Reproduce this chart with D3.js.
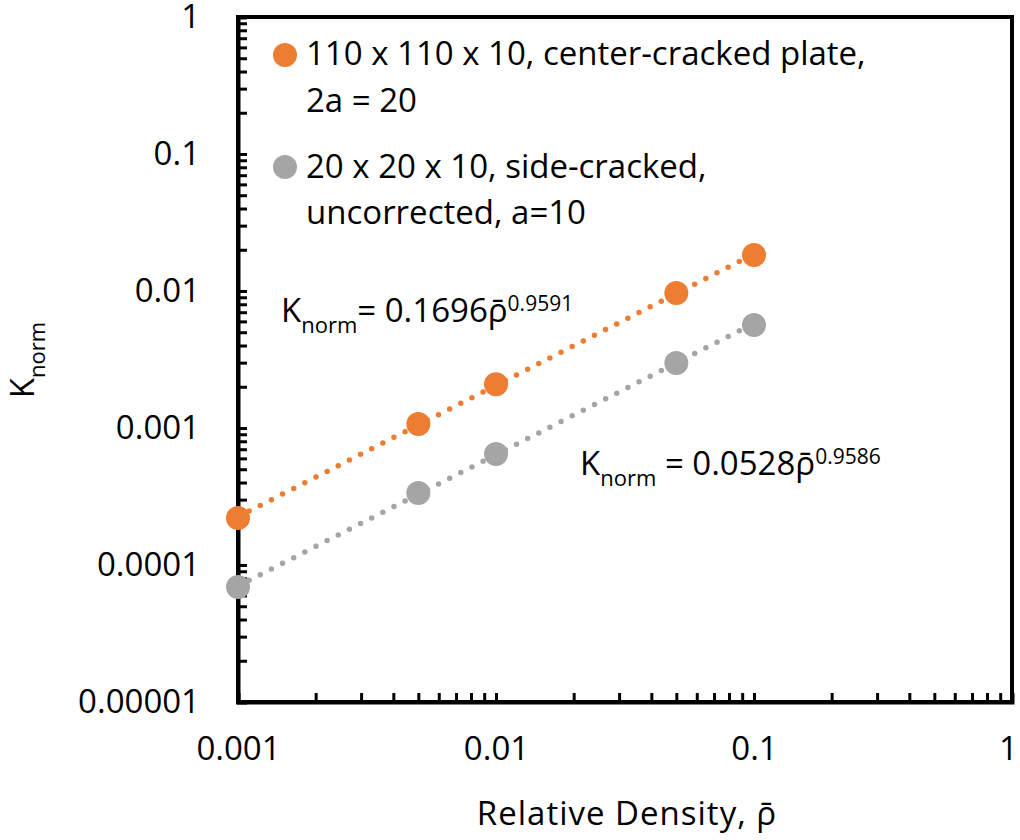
<!DOCTYPE html>
<html>
<head>
<meta charset="utf-8">
<script src="https://cdn.jsdelivr.net/npm/d3@7"></script>
<style>
  html, body { margin: 0; padding: 0; background: #fff; }
  svg text { font-family: "Open Sans", sans-serif; fill: #000; }
</style>
</head>
<body>
<svg id="chart" width="1020" height="840"></svg>
<script>
// Relative density samples (x) and normalised fracture toughness for each specimen set
const density = [0.001, 0.005, 0.01, 0.05, 0.1];
const kCenterCracked = [0.00022, 0.00107, 0.00209, 0.00966, 0.0183];
const kSideCracked = [0.000069, 0.000336, 0.000646, 0.00298, 0.00565];

// Power-law trendline coefficients (K = A * rho^n)
const fitCenter = [0.1696, 0.9591];
const fitSide = [0.0528, 0.9586];

const seriesNames = [
  ["110 x 110 x 10, center-cracked plate,", "2a = 20"],
  ["20 x 20 x 10, side-cracked,", "uncorrected, a=10"]
];
const seriesColors = ["#ED7D31", "#A5A5A5"];

const xTickLabels = ["0.001", "0.01", "0.1", "1"];
const yTickLabels = ["0.00001", "0.0001", "0.001", "0.01", "0.1", "1"];

const FS = 33;
const FONT = "'Open Sans', sans-serif";
const svg = d3.select("#chart");
const plot = { left: 238, right: 1012, top: 17, bottom: 702 };

const x = d3.scaleLog().domain([0.001, 1]).range([plot.left, plot.right]);
const y = d3.scaleLog().domain([1e-5, 1]).range([plot.bottom, plot.top]);

// 1..9 x every decade, plus the upper end
function logTicks(lo, hi) {
  const out = [];
  for (let e = Math.round(Math.log10(lo)); e < Math.round(Math.log10(hi)); e++) {
    for (let m = 1; m <= 9; m++) out.push(+(m * Math.pow(10, e)).toPrecision(3));
  }
  out.push(hi);
  return out;
}
const labelFor = (labels) => (v) => {
  const s = labels.find(l => Math.abs(+l - v) / v < 1e-6);
  return s === undefined ? "" : s;
};

// Plot-area frame
svg.append("rect")
  .attr("x", plot.left).attr("y", plot.top)
  .attr("width", plot.right - plot.left).attr("height", plot.bottom - plot.top)
  .attr("fill", "none").attr("stroke", "#000").attr("stroke-width", 4);

// X axis, ticks pointing inward
const gx = svg.append("g").attr("transform", `translate(0,${plot.bottom})`)
  .call(d3.axisBottom(x).tickValues(logTicks(0.001, 1)).tickSize(-9)
    .tickFormat(labelFor(xTickLabels)).tickPadding(35));
gx.attr("font-family", null);
gx.select(".domain").attr("stroke-width", 4).attr("stroke", "#000");
gx.selectAll(".tick line").attr("stroke-width", 3).attr("stroke", "#000");
gx.selectAll(".tick text").attr("font-size", FS).attr("fill", "#000").style("font-family", FONT)
  .attr("dx", d => (d === 1 ? -4 : 0));

// Y axis, ticks pointing inward
const gy = svg.append("g").attr("transform", `translate(${plot.left},0)`)
  .call(d3.axisLeft(y).tickValues(logTicks(1e-5, 1)).tickSize(-9)
    .tickFormat(labelFor(yTickLabels)).tickPadding(38));
gy.attr("font-family", null);
gy.select(".domain").attr("stroke-width", 4).attr("stroke", "#000");
gy.selectAll(".tick line").attr("stroke-width", 3).attr("stroke", "#000");
gy.selectAll(".tick text").attr("font-size", FS).attr("fill", "#000").style("font-family", FONT);

// Trendlines (dotted) and data markers
const series = [
  { values: kCenterCracked, fit: fitCenter, color: seriesColors[0] },
  { values: kSideCracked, fit: fitSide, color: seriesColors[1] }
];
const line = d3.line().x(d => x(d[0])).y(d => y(d[1]));
series.forEach(s => {
  const xs = [density[0], density[density.length - 1]];
  const pts = xs.map(v => [v, s.fit[0] * Math.pow(v, s.fit[1])]);
  svg.append("path").datum(pts).attr("d", line)
    .attr("fill", "none").attr("stroke", s.color).attr("stroke-width", 5.5)
    .attr("stroke-linecap", "round").attr("stroke-dasharray", "0 12.5");
});
series.forEach(s => {
  svg.append("g").selectAll("circle").data(density.map((d, i) => [d, s.values[i]]))
    .join("circle")
    .attr("cx", d => x(d[0])).attr("cy", d => y(d[1])).attr("r", 12)
    .attr("fill", s.color);
});

// Legend
const legendRows = [
  { cy: 55, baselines: [65, 112] },
  { cy: 167, baselines: [178, 224] }
];
legendRows.forEach((row, i) => {
  svg.append("circle").attr("cx", 285).attr("cy", row.cy).attr("r", 12)
    .attr("fill", seriesColors[i]);
  seriesNames[i].forEach((txt, j) => {
    svg.append("text").attr("x", 306).attr("y", row.baselines[j])
      .attr("font-size", FS).text(txt);
  });
});

// Trendline equations
function equation(xPos, yPos, mid, coef, exp) {
  const t = svg.append("text").attr("x", xPos).attr("y", yPos).attr("font-size", FS);
  t.append("tspan").text("K");
  t.append("tspan").attr("font-size", 22).attr("dy", 11).text("norm");
  t.append("tspan").attr("dy", -11).text(mid + coef + "\u03C1\u0304");
  t.append("tspan").attr("font-size", 21).attr("dy", -11).text(exp);
}
equation(281, 322, "= ", fitCenter[0].toFixed(4), fitCenter[1].toFixed(4));
equation(580, 475, " = ", fitSide[0].toFixed(4), fitSide[1].toFixed(4));

// Axis titles
svg.append("text").attr("x", 627).attr("y", 825).attr("text-anchor", "middle")
  .attr("font-size", FS).attr("letter-spacing", 1).text("Relative Density, \u03C1\u0304");

const yt = svg.append("text")
  .attr("transform", `translate(34,360) rotate(-90)`)
  .attr("text-anchor", "middle").attr("font-size", FS);
yt.append("tspan").text("K");
yt.append("tspan").attr("font-size", 22).attr("dy", 11).text("norm");
</script>
</body>
</html>
